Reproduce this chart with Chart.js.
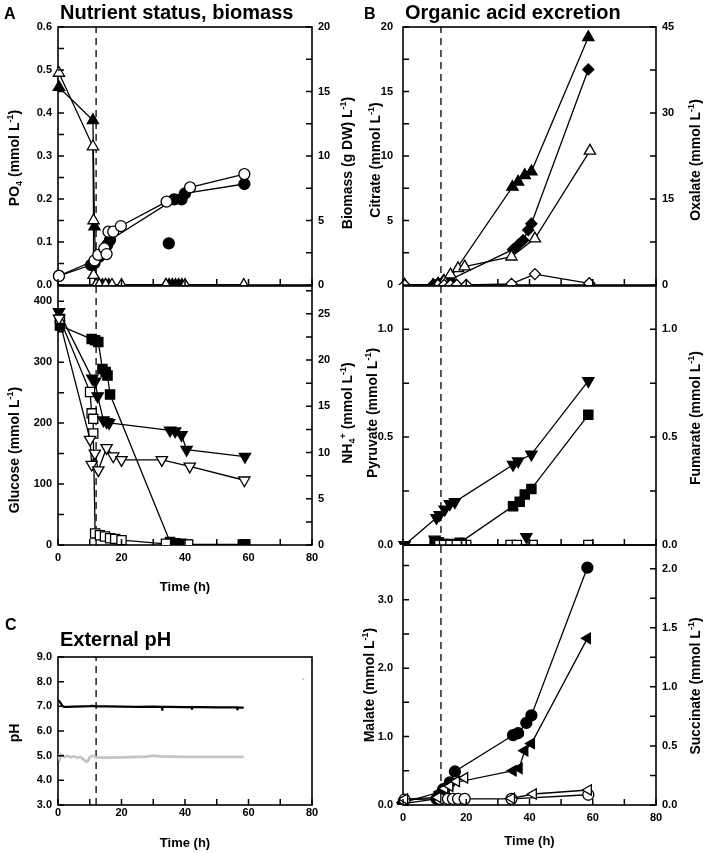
<!DOCTYPE html>
<html>
<head>
<meta charset="utf-8">
<script src="https://cdn.jsdelivr.net/npm/chart.js@4.4.1/dist/chart.umd.min.js"></script>
<style>
  body { margin: 0; background: #fff; }
  #page { position: relative; width: 704px; height: 853px; overflow: hidden; font-family: "Liberation Sans", Arial, sans-serif; font-weight: bold; color: #000; }
  #page canvas { position: absolute; left: 0; top: 0; }
  .pl { position: absolute; font-size: 16px; line-height: 1; }
  .pt { position: absolute; font-size: 20px; line-height: 1; white-space: nowrap; }
  .yt { position: absolute; font-size: 14px; line-height: 1; white-space: nowrap; transform: translate(-50%, -50%) rotate(-90deg); }
  .yt sup { font-size: 9px; vertical-align: 6px; line-height: 0; }
  .yt sub { font-size: 9px; vertical-align: -3px; line-height: 0; }
</style>
</head>
<body>
<div id="page">
  <canvas id="aTop" width="704" height="853"></canvas>
  <canvas id="aBottom" width="704" height="853"></canvas>
  <canvas id="bTop" width="704" height="853"></canvas>
  <canvas id="bMid" width="704" height="853"></canvas>
  <canvas id="bBottom" width="704" height="853"></canvas>
  <canvas id="cPh" width="704" height="853"></canvas>

  <div class="pl" style="left:4px;top:6px">A</div>
  <div class="pt" style="left:60px;top:2px">Nutrient status, biomass</div>
  <div class="pl" style="left:364px;top:6px">B</div>
  <div class="pt" style="left:405px;top:2px">Organic acid excretion</div>
  <div class="pl" style="left:5px;top:617px">C</div>
  <div class="pt" style="left:60px;top:629px">External pH</div>

  <div class="yt" style="left:14px;top:158px">PO<sub>4</sub> (mmol L<sup>-1</sup>)</div>
  <div class="yt" style="left:347px;top:163px">Biomass (g DW) L<sup>-1</sup>)</div>
  <div class="yt" style="left:14px;top:450px">Glucose (mmol L<sup>-1</sup>)</div>
  <div class="yt" style="left:347px;top:413px">NH<sub>4</sub><sup>+</sup> (mmol L<sup>-1</sup>)</div>
  <div class="yt" style="left:375px;top:160px">Citrate (mmol L<sup>-1</sup>)</div>
  <div class="yt" style="left:695px;top:160px">Oxalate (mmol L<sup>-1</sup>)</div>
  <div class="yt" style="left:372px;top:413px">Pyruvate (mmol L<sup>-1</sup>)</div>
  <div class="yt" style="left:695px;top:418px">Fumarate (mmol L<sup>-1</sup>)</div>
  <div class="yt" style="left:369px;top:685px">Malate (mmol L<sup>-1</sup>)</div>
  <div class="yt" style="left:695px;top:686px">Succinate (mmol L<sup>-1</sup>)</div>
  <div class="yt" style="left:14px;top:733px">pH</div>
</div>

<script>
// time of phosphate depletion (dashed line in every panel)
const depletionTime = 12;

// A, top: PO4 (left axis) and biomass (right axis)
const po4FilledTime = [0.3, 11, 11.5, 12, 13, 14, 15, 16, 34, 35, 36, 37, 38, 39];
const po4FilledConc = [0.46, 0.383, 0.136, 0, 0, 0, 0, 0, 0, 0, 0, 0, 0, 0];
const po4OpenTime = [0.3, 11, 11.2, 11.2, 12, 13, 15, 17, 20, 34, 40, 58.5];
const po4OpenConc = [0.493, 0.322, 0.15, 0.023, 0, 0, 0, 0, 0, 0, 0, 0];
const biomassFilledTime = [0.3, 10.4, 11.5, 13, 15.5, 16.4, 36.6, 38.9, 40, 58.7];
const biomassFilledConc = [0.7, 1.55, 1.7, 2.2, 3.1, 3.5, 6.64, 6.64, 7.1, 7.83];
const biomassOutlierTime = [34.9];
const biomassOutlierConc = [3.23];
const biomassOpenTime = [0.3, 11.5, 12.7, 14.6, 15.3, 15.9, 17.4, 19.8, 34.2, 41.6, 58.7];
const biomassOpenConc = [0.7, 1.9, 2.33, 2.84, 2.4, 4.13, 4.13, 4.57, 6.46, 7.57, 8.6];

// A, bottom: glucose (left axis) and NH4+ (right axis)
const glucoseFilledTime = [0.6, 10.6, 11.7, 12.7, 14, 15, 15.6, 16.4, 35.3, 37, 38.9, 40.5, 58.2, 59];
const glucoseFilledConc = [360, 338, 336, 333, 289, 284, 278, 247, 5, 3, 2, 1, 1, 1];
const glucoseOpenTime = [0.6, 10.1, 10.6, 11.1, 11.1, 11.7, 13.2, 14.8, 16.4, 18, 20, 34, 41];
const glucoseOpenConc = [371, 251, 216, 207, 183, 19, 16, 14, 11, 10, 8, 2, 1];
const nh4FilledTime = [0.3, 10.8, 11.7, 12.5, 14.3, 15.3, 16.1, 35.3, 36.9, 38.9, 40.5, 58.9];
const nh4FilledConc = [25.2, 18.0, 17.7, 16.1, 13.5, 13.3, 13.2, 12.4, 12.3, 11.9, 10.3, 9.56];
const nh4OpenTime = [0.3, 10.1, 10.6, 11.6, 12.7, 15.3, 17.4, 20, 32.7, 41.5, 58.7];
const nh4OpenConc = [24.5, 11.4, 8.7, 9.9, 8.1, 10.5, 9.6, 9.2, 9.2, 8.5, 7.0];

// B, top: citrate (left axis) and oxalate (right axis)
const citrateFilledTime = [0.5, 9.5, 11.1, 12.7, 14.8, 34.6, 36.4, 38.5, 40.6, 58.6];
const citrateFilledConc = [0, 0, 0.1, 0.26, 0.5, 7.6, 8.0, 8.5, 8.8, 19.2];
const oxalateFilledTime = [9.5, 11.1, 12.7, 14.8, 34.8, 36.4, 38, 39.6, 40.6, 58.6];
const oxalateFilledConc = [0, 0.3, 0.6, 0.9, 6.2, 7.0, 7.8, 9.6, 10.7, 37.6];
const citrateOpenTime = [0.5, 11, 13, 15, 17.4, 19.5, 34.3, 41.7, 59.1];
const citrateOpenConc = [0, 0, 0.3, 0.8, 1.29, 1.42, 2.19, 3.6, 10.4];
const oxalateOpenTime = [0.5, 11, 13, 15, 17, 20, 34.3, 41.7, 58.9];
const oxalateOpenConc = [0, 0, 0, 0, 0, 0, 0.2, 1.9, 0.3];

// B, middle: pyruvate (left axis) and fumarate (right axis)
const pyruvateFilledTime = [0.5, 10.6, 11.6, 13.2, 14.8, 16.4, 34.8, 36.4, 40.6, 58.6];
const pyruvateFilledConc = [0, 0.126, 0.14, 0.165, 0.19, 0.2, 0.372, 0.388, 0.42, 0.76];
const pyruvateLowTime = [10, 11, 12.7, 39];
const pyruvateLowConc = [0.026, 0.018, 0.01, 0.038];
const fumarateFilledTime = [10, 11, 12.7, 14.8, 17.9, 34.8, 36.9, 38.5, 40.6, 58.6];
const fumarateFilledConc = [0.01, 0.01, 0.005, 0.005, 0.01, 0.18, 0.2, 0.234, 0.26, 0.603];
const fumarateOpenTime = [11, 13, 15, 17, 20, 34, 36, 41, 58.6];
const fumarateOpenConc = [0, 0, 0, 0, 0, 0, 0, 0, 0];

// B, bottom: malate (left axis) and succinate (right axis)
const malateFilledTime = [0, 10.6, 12.7, 14.8, 16.4, 34.8, 36.4, 39, 40.6, 58.3];
const malateFilledConc = [0.02, 0.09, 0.23, 0.33, 0.49, 1.02, 1.05, 1.2, 1.31, 3.47];
const malateOpenTime = [0.5, 11.6, 14.2, 15.8, 17.4, 19.5, 34.3, 58.6];
const malateOpenConc = [0.08, 0.09, 0.09, 0.09, 0.09, 0.09, 0.09, 0.15];
const succinateFilledTime = [0, 11.6, 13.7, 14.8, 34.8, 36.7, 38.5, 40.6, 58.3];
const succinateFilledConc = [0.02, 0.11, 0.15, 0.18, 0.29, 0.31, 0.46, 0.52, 1.41];
const succinateOpenTime = [0.5, 11, 13.2, 14.8, 16.9, 19.5];
const succinateOpenConc = [0.05, 0.065, 0.14, 0.16, 0.2, 0.23];
const succinateOpenLateTime = [34.3, 41.2, 58.6];
const succinateOpenLateConc = [0.057, 0.093, 0.127];

// C: external pH
const phControlledTime = [0, 0.5, 1, 1.5, 2, 3, 5, 8, 10, 11, 12, 15, 20, 25, 30, 32.7, 32.8, 32.9, 35, 40, 42.1, 42.2, 42.3, 45, 50, 55, 56.4, 56.5, 56.6, 58.5];
const phControlled = [7.25, 7.2, 7.1, 7.0, 6.98, 6.98, 6.99, 7.0, 7.01, 7.02, 7.0, 7.0, 6.99, 6.98, 6.99, 6.98, 6.87, 6.98, 6.98, 6.97, 6.97, 6.87, 6.97, 6.97, 6.96, 6.96, 6.96, 6.84, 6.96, 6.95];
const phFreeTime = [0, 0.5, 1, 2, 3, 4, 5, 6, 7, 8, 9, 9.5, 10, 11, 12, 15, 20, 25, 28, 30, 32, 35, 40, 50, 58.5];
const phFree = [5.05, 4.85, 5.05, 4.95, 5.0, 4.93, 4.98, 4.92, 4.95, 4.85, 4.75, 4.8, 4.95, 5.0, 4.93, 4.92, 4.93, 4.95, 4.96, 5.0, 4.97, 4.96, 4.95, 4.95, 4.95];
const phStrayTime = [77.3];
const phStray = [8.1];

Chart.defaults.font.family = "'Liberation Sans', Arial, sans-serif";
Chart.defaults.color = '#000';
const tickFont = { size: 11, weight: 'bold' };

function pts(xs, ys) {
  return xs.map((x, i) => ({ x: x, y: ys[i] }));
}

const shapes = {
  circle: { style: 'circle', r: 5.5, rot: 0 },
  up: { style: 'triangle', r: 6.5, rot: 0 },
  down: { style: 'triangle', r: 6.5, rot: 180 },
  left: { style: 'triangle', r: 6, rot: -90 },
  square: { style: 'rect', r: 6.5, rot: 0 },
  diamond: { style: 'rectRot', r: 5.5, rot: 0 }
};

function series(xs, ys, axis, shape, filled, showLine) {
  const s = shapes[shape];
  return {
    data: pts(xs, ys),
    yAxisID: axis,
    showLine: showLine !== false,
    borderColor: '#000',
    borderWidth: 1.3,
    pointStyle: s.style,
    pointRadius: s.r,
    pointRotation: s.rot,
    pointBackgroundColor: filled ? '#000' : '#fff',
    pointBorderColor: '#000',
    pointBorderWidth: 1.3,
    clip: { left: 8, right: 8, top: 8, bottom: 0 }
  };
}

function trace(xs, ys, color, width) {
  return { data: pts(xs, ys), yAxisID: 'yL', showLine: true, pointRadius: 0, borderColor: color, borderWidth: width };
}

// vertical dashed marker, spans the whole y range of the panel
function dashLine(lo, hi) {
  return {
    data: [{ x: depletionTime, y: lo }, { x: depletionTime, y: hi }],
    yAxisID: 'yL', showLine: true, pointRadius: 0,
    borderColor: '#000', borderWidth: 1.3, borderDash: [7, 5]
  };
}

function isMajor(v, major) {
  return Math.abs(v / major - Math.round(v / major)) < 1e-6;
}

function yAxis(pos, min, max, step, major, decimals, gap) {
  return {
    type: 'linear', position: pos, min: min, max: max,
    afterFit: s => { s.width = 30; },
    border: { display: false },
    grid: { display: false, drawTicks: false },
    ticks: {
      stepSize: step, includeBounds: false, autoSkip: false, padding: gap,
      font: tickFont, color: '#000',
      callback: v => isMajor(v, major) ? v.toFixed(decimals) : ''
    }
  };
}

function xAxis(labels, height, gap) {
  return {
    type: 'linear', position: 'bottom', min: 0, max: 80,
    afterFit: s => { s.height = height; },
    border: { display: false },
    grid: { display: false, drawTicks: false },
    ticks: {
      display: labels, stepSize: 10, autoSkip: false, maxRotation: 0, padding: gap,
      font: tickFont, color: '#000',
      callback: v => v % 20 === 0 ? String(v) : ''
    },
    title: { display: labels, text: 'Time (h)', font: { size: 13, weight: 'bold' }, color: '#000', padding: 0 }
  };
}

// black frame round the plot area
const framePlugin = {
  id: 'frame',
  beforeDatasetsDraw(chart) {
    const { ctx, chartArea: a } = chart;
    ctx.save();
    ctx.strokeStyle = '#000';
    ctx.lineWidth = 1.6;
    ctx.strokeRect(a.left, a.top, a.right - a.left, a.bottom - a.top);
    ctx.restore();
  },
  // inward tick marks at every tick of every scale
  afterDraw(chart) {
    const { ctx, chartArea: a } = chart;
    const len = 6;
    ctx.save();
    ctx.strokeStyle = '#000';
    ctx.lineWidth = 1.5;
    ctx.beginPath();
    for (const id in chart.scales) {
      const scale = chart.scales[id];
      const side = scale.options.position;
      for (const t of scale.ticks) {
        const p = scale.getPixelForValue(t.value);
        if (side === 'left') {
          ctx.moveTo(a.left, p); ctx.lineTo(a.left + len, p);
        } else if (side === 'right') {
          ctx.moveTo(a.right, p); ctx.lineTo(a.right - len, p);
        } else {
          ctx.moveTo(p, a.bottom); ctx.lineTo(p, a.bottom - len);
        }
      }
    }
    ctx.stroke();
    ctx.restore();
  }
};

function panel(id, area, xHeight, scales, datasets) {
  const rightW = scales.yR ? 30 : 0;
  new Chart(document.getElementById(id), {
    type: 'scatter',
    data: { datasets: datasets },
    options: {
      responsive: false,
      animation: false,
      events: [],
      layout: {
        padding: {
          left: area.l - 30,
          right: 704 - area.r - rightW,
          top: area.t,
          bottom: 853 - area.b - xHeight
        }
      },
      plugins: { legend: { display: false }, tooltip: { enabled: false } },
      scales: scales
    },
    plugins: [framePlugin]
  });
}

// Panel A, top
panel('aTop', { l: 58, r: 312, t: 27, b: 285 }, 10, {
  x: xAxis(false, 10, 2),
  yL: yAxis('left', 0, 0.6, 0.05, 0.1, 1, 6),
  yR: yAxis('right', 0, 20, 2.5, 5, 0, 6)
}, [
  series(biomassOpenTime, biomassOpenConc, 'yR', 'circle', false),
  series(biomassFilledTime, biomassFilledConc, 'yR', 'circle', true),
  series(biomassOutlierTime, biomassOutlierConc, 'yR', 'circle', true, false),
  series(po4OpenTime, po4OpenConc, 'yL', 'up', false),
  series(po4FilledTime, po4FilledConc, 'yL', 'up', true),
  dashLine(0, 0.6)
]);

// Panel A, bottom
panel('aBottom', { l: 58, r: 312, t: 286, b: 545 }, 50, {
  x: xAxis(true, 50, 6),
  yL: yAxis('left', 0, 425, 50, 100, 0, 6),
  yR: yAxis('right', 0, 28, 2.5, 5, 0, 6)
}, [
  series(nh4OpenTime, nh4OpenConc, 'yR', 'down', false),
  series(nh4FilledTime, nh4FilledConc, 'yR', 'down', true),
  series(glucoseOpenTime, glucoseOpenConc, 'yL', 'square', false),
  series(glucoseFilledTime, glucoseFilledConc, 'yL', 'square', true),
  dashLine(0, 425)
]);

// Panel B, top
panel('bTop', { l: 403, r: 656, t: 27, b: 285 }, 10, {
  x: xAxis(false, 10, 2),
  yL: yAxis('left', 0, 20, 2.5, 5, 0, 10),
  yR: yAxis('right', 0, 45, 7.5, 15, 0, 6)
}, [
  series(oxalateOpenTime, oxalateOpenConc, 'yR', 'diamond', false),
  series(citrateOpenTime, citrateOpenConc, 'yL', 'up', false),
  series(oxalateFilledTime, oxalateFilledConc, 'yR', 'diamond', true),
  series(citrateFilledTime, citrateFilledConc, 'yL', 'up', true),
  dashLine(0, 20)
]);

// Panel B, middle
panel('bMid', { l: 403, r: 656, t: 286, b: 545 }, 10, {
  x: xAxis(false, 10, 2),
  yL: yAxis('left', 0, 1.2, 0.25, 0.5, 1, 10),
  yR: yAxis('right', 0, 1.2, 0.25, 0.5, 1, 6)
}, [
  series(fumarateOpenTime, fumarateOpenConc, 'yR', 'square', false),
  series(pyruvateLowTime, pyruvateLowConc, 'yL', 'down', true, false),
  series(fumarateFilledTime, fumarateFilledConc, 'yR', 'square', true),
  series(pyruvateFilledTime, pyruvateFilledConc, 'yL', 'down', true),
  dashLine(0, 1.2)
]);

// Panel B, bottom
panel('bBottom', { l: 403, r: 656, t: 545, b: 805 }, 44, {
  x: xAxis(true, 44, 6),
  yL: yAxis('left', 0, 3.8, 0.5, 1, 1, 10),
  yR: yAxis('right', 0, 2.2, 0.25, 0.5, 1, 6)
}, [
  series(succinateOpenLateTime, succinateOpenLateConc, 'yR', 'left', false),
  series(succinateOpenTime, succinateOpenConc, 'yR', 'left', false),
  series(malateOpenTime, malateOpenConc, 'yL', 'circle', false),
  series(succinateFilledTime, succinateFilledConc, 'yR', 'left', true),
  series(malateFilledTime, malateFilledConc, 'yL', 'circle', true),
  dashLine(0, 3.8)
]);

// Panel C, external pH
panel('cPh', { l: 58, r: 312, t: 657, b: 805 }, 46, {
  x: xAxis(true, 46, 1.5),
  yL: yAxis('left', 3, 9, 1, 1, 1, 6)
}, [
  trace(phControlledTime, phControlled, '#000', 2.2),
  trace(phFreeTime, phFree, '#c4c4c4', 2.6),
  { data: pts(phStrayTime, phStray), yAxisID: 'yL', pointRadius: 1, pointBackgroundColor: '#bbb', pointBorderWidth: 0, clip: false },
  dashLine(3, 9)
]);
</script>
</body>
</html>
